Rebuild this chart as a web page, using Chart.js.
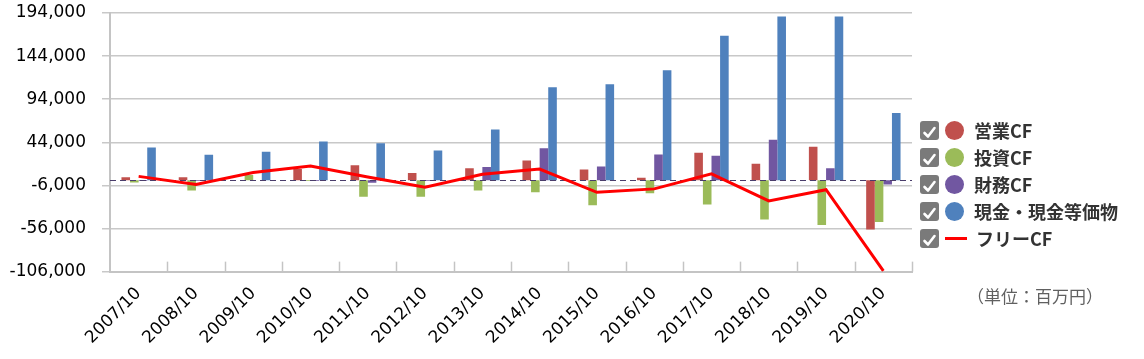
<!DOCTYPE html>
<html>
<head>
<meta charset="utf-8">
<script src="https://cdn.jsdelivr.net/npm/chart.js@4.4.1/dist/chart.umd.min.js"></script>
<style>
  html, body { margin: 0; padding: 0; background: #fff; }
  #wrap { position: relative; width: 1144px; height: 359px; overflow: hidden; }
  #c { position: absolute; left: 0; top: 0; }
  .lg { position: absolute; left: 920px; height: 20px; display: flex; align-items: center;
        font-family: "Noto Sans CJK JP", "Noto Sans", sans-serif; font-weight: bold; font-size: 18px; color: #333; white-space: nowrap; }
  .cb { width: 19px; height: 19px; border-radius: 3px; background: #7a7a7a; display: block; }
  .dot { width: 19px; height: 19px; border-radius: 50%; margin-left: 6px; margin-right: 10px; }
  .ln { width: 22px; height: 3px; background: #ff0000; margin-left: 6px; margin-right: 9px; }
  #unit { position: absolute; left: 967px; top: 283px; font-family: "Noto Sans CJK JP", sans-serif; font-size: 17px; color: #606060; white-space: nowrap; }
</style>
</head>
<body>
<div id="wrap">
  <canvas id="c" width="1144" height="359"></canvas>
  <div id="legend"></div>
  <div id="unit">（単位：百万円）</div>
</div>
<script>
const categories = ['2007/10','2008/10','2009/10','2010/10','2011/10','2012/10','2013/10','2014/10','2015/10','2016/10','2017/10','2018/10','2019/10','2020/10'];
const operatingCF = [3500, 3500, 0, 13000, 17500, 8500, 14000, 23000, 12500, 3000, 32000, 19000, 39000, -57000];
const investingCF = [-2500, -12000, 6000, -1000, -19000, -19000, -12000, -14000, -29000, -15000, -28000, -45500, -52000, -48500];
const financingCF = [-1000, -1000, 0, -1000, -3000, -1000, 15500, 37000, 16000, 30000, 28500, 47000, 14000, -5000];
const cashEquiv = [38000, 29500, 33000, 45000, 43000, 34500, 59000, 108000, 111500, 127500, 167500, 190000, 190000, 78000];
const freeCF = [4500, -5000, 9000, 16500, 3700, -8000, 7000, 13000, -14000, -10000, 7500, -24000, -11000, -105000];
const yTicks = [-106000, -56000, -6000, 44000, 94000, 144000, 194000];

const seriesNames = ['営業CF', '投資CF', '財務CF', '現金・現金等価物', 'フリーCF'];
const seriesColors = ['#c0504d', '#9bbb59', '#7157a1', '#4f81bd', '#ff0000'];

const refPlugin = {
  id: 'refPlugin',
  beforeDatasetsDraw(chart) {
    const { ctx, chartArea, scales: { x } } = chart;
    const half = (x.getPixelForValue(1) - x.getPixelForValue(0)) / 2;
    ctx.save();
    ctx.strokeStyle = '#c4c4c4';
    ctx.lineWidth = 1.5;
    for (let i = 1; i <= categories.length; i++) {
      const px = Math.round(x.getPixelForValue(i) - half) + 0.5;
      ctx.beginPath();
      ctx.moveTo(px, chartArea.bottom - 10);
      ctx.lineTo(px, chartArea.bottom);
      ctx.stroke();
    }
    ctx.restore();
  },
  beforeDatasetDraw(chart, args) {
    if (args.index !== 4) return;
    const { ctx, chartArea, scales: { y } } = chart;
    const py = Math.round(y.getPixelForValue(0)) + 0.5;
    ctx.save();
    ctx.strokeStyle = '#4a3d6b';
    ctx.lineWidth = 1.2;
    ctx.setLineDash([6, 4]);
    ctx.beginPath();
    ctx.moveTo(chartArea.left, py);
    ctx.lineTo(chartArea.right, py);
    ctx.stroke();
    ctx.restore();
  }
};

const barData = [operatingCF, investingCF, financingCF, cashEquiv];
const datasets = barData.map((d, i) => ({
  type: 'bar',
  label: seriesNames[i],
  data: d,
  backgroundColor: seriesColors[i],
  borderWidth: 0,
  categoryPercentage: 0.6,
  barPercentage: 1.0,
  order: 1
}));
datasets.push({
  type: 'line',
  label: seriesNames[4],
  data: freeCF,
  borderColor: seriesColors[4],
  backgroundColor: seriesColors[4],
  borderWidth: 3,
  pointRadius: 0,
  tension: 0,
  order: 0
});

new Chart(document.getElementById('c'), {
  data: { labels: categories, datasets },
  options: {
    responsive: false,
    animation: false,
    layout: { padding: { left: 0, right: 232, top: 13, bottom: 7 } },
    plugins: { legend: { display: false }, tooltip: { enabled: false } },
    scales: {
      x: {
        offset: true,
        grid: { display: false },
        border: { display: true, color: '#c4c4c4', width: 2 },
        ticks: { font: { family: 'DejaVu Sans', size: 17 }, color: '#000', maxRotation: 45, minRotation: 45, padding: 4, autoSkip: false }
      },
      y: {
        min: yTicks[0],
        max: yTicks[yTicks.length - 1],
        afterBuildTicks: (scale) => { scale.ticks = yTicks.map(v => ({ value: v })); },
        afterFit: (scale) => { scale.width = 110; scale.paddingTop = 0; scale.paddingBottom = 0; },
        grid: { color: '#c8c8c8', lineWidth: 1.5, drawTicks: true, tickLength: 8 },
        border: { display: true, color: '#c4c4c4', width: 2 },
        ticks: { font: { family: 'DejaVu Sans', size: 17 }, color: '#000', padding: 16,
                 callback: (v) => Number(v).toLocaleString('en-US') }
      }
    }
  },
  plugins: [refPlugin]
});

// HTML legend
const legend = document.getElementById('legend');
const tops = [120, 147, 174, 201, 228];
seriesNames.forEach((name, i) => {
  const row = document.createElement('div');
  row.className = 'lg';
  row.style.top = tops[i] + 'px';
  const cb = document.createElement('span');
  cb.className = 'cb';
  cb.innerHTML = '<svg width="19" height="19" viewBox="0 0 19 19"><polyline points="4.5,10 8,13.5 14.5,5" fill="none" stroke="#fff" stroke-width="2.6" stroke-linecap="round" stroke-linejoin="round"/></svg>';
  row.appendChild(cb);
  const mk = document.createElement('span');
  if (i < 4) { mk.className = 'dot'; mk.style.background = seriesColors[i]; }
  else { mk.className = 'ln'; }
  row.appendChild(mk);
  const t = document.createElement('span');
  t.textContent = name;
  row.appendChild(t);
  legend.appendChild(row);
});
</script>
</body>
</html>
